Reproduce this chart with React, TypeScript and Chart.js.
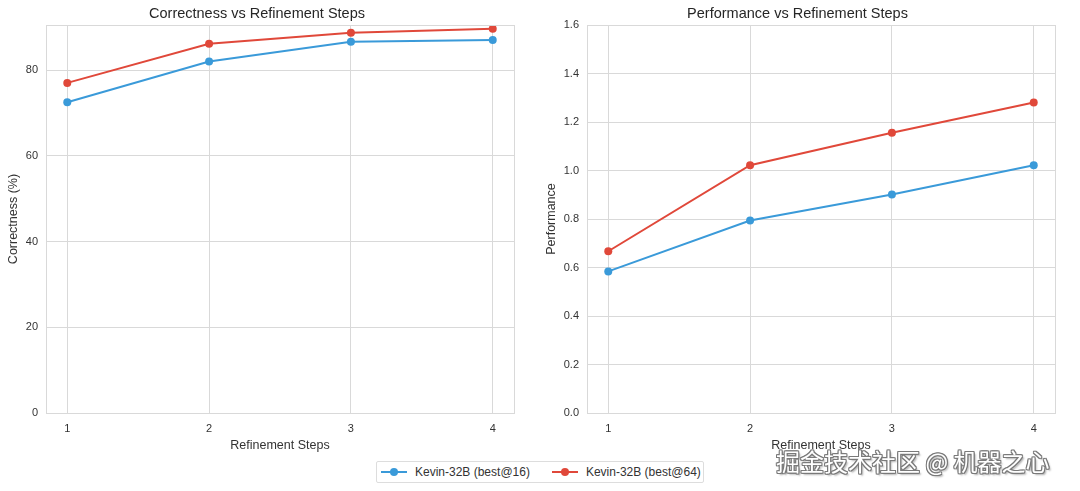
import React, { useEffect, useRef } from "react";
import { Chart, registerables } from "chart.js";

Chart.register(...registerables);

const STEPS = [1, 2, 3, 4];
const CORRECT_BEST16 = [72.5, 82.0, 86.6, 87.0];
const CORRECT_BEST64 = [77.0, 86.1, 88.7, 89.6];
const PERF_BEST16 = [0.584, 0.794, 0.901, 1.022];
const PERF_BEST64 = [0.667, 1.022, 1.156, 1.280];
const CORRECT_TICKS = [0, 20, 40, 60, 80];
const PERF_TICKS = [0, 0.2, 0.4, 0.6, 0.8, 1.0, 1.2, 1.4, 1.6];
const SERIES_NAMES = ["Kevin-32B (best@16)", "Kevin-32B (best@64)"];
const COLORS = ["#3a9ad9", "#e0483a"];

const FONT = "'Liberation Sans', Arial, sans-serif";
const GRID = "#d9d9d9";
const TEXT = "#333333";

const borderPlugin = {
  id: "areaBorder",
  afterDraw(chart: any) {
    const { ctx, chartArea } = chart;
    ctx.save();
    ctx.strokeStyle = GRID;
    ctx.lineWidth = 1;
    ctx.strokeRect(
      Math.round(chartArea.left) + 0.5,
      Math.round(chartArea.top) + 0.5,
      Math.round(chartArea.right - chartArea.left),
      Math.round(chartArea.bottom - chartArea.top)
    );
    ctx.restore();
  },
};

function makeConfig(opts: {
  title: string;
  yTitle: string;
  a: number[];
  b: number[];
  yMax: number;
  yTicks: number[];
  decimals: number;
  yWidth: number;
  yTitlePad: number;
  rightPad: number;
}) {
  const toPts = (arr: number[]) => STEPS.map((s, i) => ({ x: s, y: arr[i] }));
  return {
    type: "line" as const,
    data: {
      datasets: [opts.a, opts.b].map((arr, i) => ({
        label: SERIES_NAMES[i],
        data: toPts(arr),
        borderColor: COLORS[i],
        backgroundColor: COLORS[i],
        borderWidth: 2,
        pointRadius: 4,
        pointBorderWidth: 0,
        pointHoverRadius: 4,
        tension: 0,
      })),
    },
    options: {
      animation: false as const,
      responsive: false,
      maintainAspectRatio: false,
      devicePixelRatio: 1,
      layout: { padding: { left: 0, right: opts.rightPad, top: 0, bottom: 0 } },
      plugins: {
        legend: { display: false },
        tooltip: { enabled: false },
        title: {
          display: true,
          text: opts.title,
          color: "#262626",
          font: { family: FONT, size: 14.5, weight: "normal" as const },
          padding: { top: 5.3, bottom: 2.3 },
        },
      },
      scales: {
        x: {
          type: "linear" as const,
          min: 0.85,
          max: 4.15,
          afterBuildTicks: (s: any) => {
            s.ticks = STEPS.map((v) => ({ value: v }));
          },
          afterFit: (s: any) => {
            s.height = 47;
          },
          grid: { color: GRID, drawTicks: false, lineWidth: 1 },
          border: { color: GRID },
          ticks: {
            color: TEXT,
            padding: 9.5,
            font: { family: FONT, size: 11 },
            callback: (v: any) => String(v),
          },
          title: {
            display: true,
            text: "Refinement Steps",
            color: TEXT,
            font: { family: FONT, size: 12.5 },
            padding: { top: 0, bottom: 7 },
          },
        },
        y: {
          type: "linear" as const,
          min: 0,
          max: opts.yMax,
          afterBuildTicks: (s: any) => {
            s.ticks = opts.yTicks.map((v) => ({ value: v }));
          },
          afterFit: (s: any) => {
            s.width = opts.yWidth;
          },
          grid: { color: GRID, drawTicks: false, lineWidth: 1 },
          border: { color: GRID },
          ticks: {
            color: TEXT,
            padding: 8,
            font: { family: FONT, size: 11 },
            callback: (v: any) => Number(v).toFixed(opts.decimals),
          },
          title: {
            display: true,
            text: opts.yTitle,
            color: TEXT,
            font: { family: FONT, size: 12.5 },
            padding: { top: opts.yTitlePad, bottom: 0 },
          },
        },
      },
    },
    plugins: [borderPlugin],
  };
}

function ChartCanvas({ config, left }: { config: any; left: number }) {
  const ref = useRef<HTMLCanvasElement>(null);
  useEffect(() => {
    if (!ref.current) return;
    const chart = new Chart(ref.current, config);
    return () => chart.destroy();
  }, [config]);
  return (
    <canvas
      ref={ref}
      width={540}
      height={460}
      style={{ position: "absolute", left, top: 0, width: 540, height: 460 }}
    />
  );
}

const leftConfig = makeConfig({
  title: "Correctness vs Refinement Steps",
  yTitle: "Correctness (%)",
  a: CORRECT_BEST16,
  b: CORRECT_BEST64,
  yMax: 90.5,
  yTicks: CORRECT_TICKS,
  decimals: 0,
  yWidth: 46,
  yTitlePad: 6,
  rightPad: 26,
});

const rightConfig = makeConfig({
  title: "Performance vs Refinement Steps",
  yTitle: "Performance",
  a: PERF_BEST16,
  b: PERF_BEST64,
  yMax: 1.6,
  yTicks: PERF_TICKS,
  decimals: 1,
  yWidth: 47,
  yTitlePad: 4,
  rightPad: 25,
});

function LegendItem({ color, label }: { color: string; label: string }) {
  return (
    <div style={{ display: "flex", alignItems: "center" }}>
      <div style={{ position: "relative", width: 26, height: 8, marginRight: 8 }}>
        <div
          style={{
            position: "absolute",
            left: 0,
            top: 3,
            width: 26,
            height: 2,
            background: color,
          }}
        />
        <div
          style={{
            position: "absolute",
            left: 9,
            top: 0,
            width: 8,
            height: 8,
            borderRadius: 4,
            background: color,
          }}
        />
      </div>
      <span style={{ fontFamily: FONT, fontSize: 12, color: TEXT, whiteSpace: "nowrap" }}>{label}</span>
    </div>
  );
}

export default function App() {
  return (
    <div
      style={{
        position: "fixed",
        left: 0,
        top: 0,
        width: 1080,
        height: 491,
        background: "#ffffff",
        overflow: "hidden",
      }}
    >
      <ChartCanvas config={leftConfig} left={0} />
      <ChartCanvas config={rightConfig} left={540} />
      <div
        style={{
          position: "absolute",
          left: 376,
          top: 461,
          width: 328,
          height: 22,
          boxSizing: "border-box",
          border: "1px solid #dddddd",
          borderRadius: 2,
          background: "#fff",
          display: "flex",
          alignItems: "center",
          paddingLeft: 4,
        }}
      >
        <LegendItem color={COLORS[0]} label={SERIES_NAMES[0]} />
        <div style={{ width: 22 }} />
        <LegendItem color={COLORS[1]} label={SERIES_NAMES[1]} />
      </div>
      <div
        style={{
          position: "absolute",
          left: 776,
          top: 446,
          fontFamily: "'Noto Sans CJK SC', sans-serif",
          fontSize: 24,
          lineHeight: "30px",
          color: "#ffffff",
          whiteSpace: "nowrap",
          textShadow:
            "1px 0 0 #7a7a7a, -1px 0 0 #7a7a7a, 0 1px 0 #7a7a7a, 0 -1px 0 #7a7a7a, 1px 1px 0 #7a7a7a, -1px -1px 0 #7a7a7a, 1px -1px 0 #7a7a7a, -1px 1px 0 #7a7a7a, 2px 2px 2px rgba(0,0,0,0.35)",
        }}
      >
        掘金技术社区 @ 机器之心
      </div>
    </div>
  );
}
